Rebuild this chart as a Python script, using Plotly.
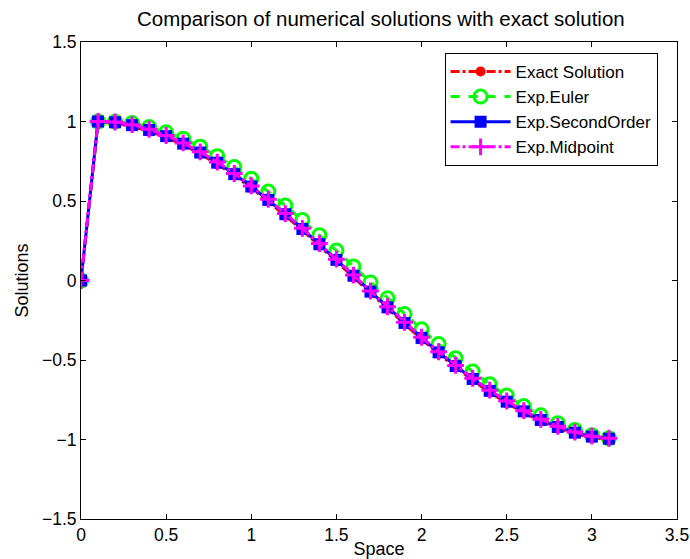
import plotly.graph_objects as go

x_space = [0.0, 0.1, 0.2, 0.3, 0.4, 0.5, 0.6, 0.7, 0.8, 0.9, 1.0, 1.1, 1.2, 1.3, 1.4, 1.5,
           1.6, 1.7, 1.8, 1.9, 2.0, 2.1, 2.2, 2.3, 2.4, 2.5, 2.6, 2.7, 2.8, 2.9, 3.0, 3.1]

exact = [0, 0.999, 0.989, 0.969, 0.939, 0.900, 0.853, 0.796, 0.732, 0.660, 0.582, 0.498,
         0.408, 0.315, 0.219, 0.121, 0.021, -0.079, -0.178, -0.276, -0.370, -0.461,
         -0.547, -0.628, -0.703, -0.771, -0.832, -0.885, -0.929, -0.964, -0.989, -1.000]

euler = [0, 1.000, 0.999, 0.990, 0.965, 0.932, 0.892, 0.841, 0.782, 0.714, 0.640, 0.559,
         0.471, 0.380, 0.285, 0.188, 0.088, -0.012, -0.112, -0.211, -0.307, -0.400,
         -0.489, -0.573, -0.652, -0.724, -0.790, -0.848, -0.898, -0.940, -0.973, -0.992]

second = [0, 1.000, 0.995, 0.977, 0.947, 0.908, 0.861, 0.805, 0.741, 0.669, 0.591, 0.507,
          0.417, 0.324, 0.228, 0.130, 0.030, -0.070, -0.169, -0.267, -0.361, -0.452,
          -0.538, -0.619, -0.694, -0.762, -0.823, -0.877, -0.921, -0.957, -0.982, -0.995]

midpoint = [0, 1.000, 0.997, 0.980, 0.951, 0.912, 0.865, 0.809, 0.745, 0.673, 0.595, 0.511,
            0.421, 0.328, 0.232, 0.134, 0.034, -0.066, -0.165, -0.263, -0.357, -0.448,
            -0.534, -0.615, -0.690, -0.758, -0.819, -0.873, -0.917, -0.953, -0.979, -0.992]

series_names = ["Exact Solution", "Exp.Euler", "Exp.SecondOrder", "Exp.Midpoint"]

FONT = "Arial, Liberation Sans, Helvetica, sans-serif"

fig = go.Figure()
fig.add_trace(go.Scatter(
    x=x_space, y=exact, name=series_names[0], mode="lines+markers",
    line=dict(color="#FF0000", width=3, dash="dashdot"),
    marker=dict(symbol="circle", size=10, color="#FF0000")))
fig.add_trace(go.Scatter(
    x=x_space, y=euler, name=series_names[1], mode="lines+markers",
    line=dict(color="#00FF00", width=3, dash="dash"),
    marker=dict(symbol="circle-open", size=13, color="#00FF00",
                line=dict(color="#00FF00", width=3))))
fig.add_trace(go.Scatter(
    x=x_space, y=second, name=series_names[2], mode="lines+markers",
    line=dict(color="#0000FF", width=3),
    marker=dict(symbol="square", size=12, color="#0000FF")))
fig.add_trace(go.Scatter(
    x=x_space, y=midpoint, name=series_names[3], mode="lines+markers",
    line=dict(color="#FF00FF", width=3, dash="dashdot"),
    marker=dict(symbol="cross-thin", size=12, color="#FF00FF",
                line=dict(color="#FF00FF", width=3))))

axis_common = dict(
    showline=True, linecolor="black", linewidth=1, mirror="ticks",
    ticks="inside", ticklen=5, tickcolor="black", showgrid=False, zeroline=False,
    tickfont=dict(family=FONT, size=17.5, color="black"), automargin=False,
    ticklabeloverflow="allow",
)

fig.update_xaxes(range=[0, 3.5], dtick=0.5, tick0=0,
                 title=dict(text="Space", font=dict(family=FONT, size=18, color="black"),
                            standoff=0),
                 **axis_common)
fig.update_yaxes(range=[-1.5, 1.5], dtick=0.5, tick0=0,
                 title=dict(text="Solutions", font=dict(family=FONT, size=18, color="black"),
                            standoff=8),
                 **axis_common)

fig.update_layout(
    width=690, height=559,
    margin=dict(l=81, r=13, t=42, b=40),
    paper_bgcolor="white", plot_bgcolor="white",
    title=dict(text="Comparison of numerical solutions with exact solution",
               x=0.552, xanchor="center", y=1 - 19 / 559, yanchor="middle",
               font=dict(family=FONT, size=20.5, color="black")),
    legend=dict(x=0.61, y=0.977, xanchor="left", yanchor="top",
                bgcolor="white", bordercolor="black", borderwidth=1,
                font=dict(family=FONT, size=17, color="black"),
                tracegroupgap=0, itemwidth=60),
    showlegend=True,
)

fig.write_html("out.html", config={"displayModeBar": False},
               post_script="document.body.style.margin='0px';")
